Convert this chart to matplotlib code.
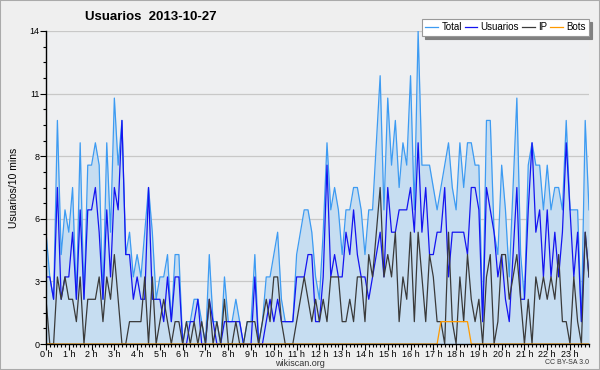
import matplotlib
matplotlib.use("Agg")
import matplotlib.pyplot as plt
from matplotlib.patches import Rectangle

plt.rcParams['font.family'] = ['Liberation Sans', 'DejaVu Sans']

# one value per 10 minutes, 2013-10-27
total = [5, 3, 2, 10, 4, 6, 5, 7, 2, 9, 2, 8, 8, 9, 8, 2, 9, 5, 11, 8, 10, 4, 5, 3,
         4, 3, 5, 7, 5, 2, 3, 3, 4, 1, 4, 4, 0, 1, 1, 2, 2, 1, 0, 4, 1, 1, 0, 3,
         1, 1, 2, 1, 0, 1, 1, 4, 0, 1, 3, 3, 4, 5, 2, 1, 1, 1, 4, 5, 6, 6, 5, 3,
         2, 5, 9, 6, 7, 6, 4, 6, 6, 7, 7, 6, 4, 6, 6, 9, 12, 6, 11, 8, 10, 7, 9, 8,
         12, 6, 14, 8, 8, 8, 7, 6, 7, 8, 9, 7, 6, 9, 7, 9, 9, 8, 8, 1, 10, 10,
         5, 4, 8, 6, 3, 7, 11, 4, 2, 8, 9, 8, 8, 6, 8, 6, 7, 7, 6, 10, 6, 6, 6, 1, 10, 6]
usuarios = [3, 3, 2, 7, 2, 3, 3, 5, 2, 6, 2, 6, 6, 7, 5, 2, 6, 3, 7, 6, 10, 4, 4, 2,
            3, 2, 2, 7, 2, 2, 2, 1, 3, 1, 3, 3, 0, 0, 1, 1, 2, 0, 0, 2, 1, 0, 0, 1,
            1, 1, 1, 1, 0, 0, 0, 3, 0, 0, 1, 2, 1, 2, 1, 1, 1, 1, 3, 3, 3, 4, 4, 1,
            1, 3, 8, 3, 4, 3, 3, 5, 4, 6, 4, 3, 3, 2, 3, 4, 5, 3, 7, 5, 5, 6, 6, 6,
            7, 5, 9, 5, 7, 4, 4, 5, 5, 7, 3, 5, 5, 5, 5, 4, 7, 7, 6, 1, 7, 6,
            5, 3, 4, 2, 1, 4, 7, 2, 2, 6, 9, 5, 6, 3, 6, 3, 5, 3, 5, 9, 6, 3, 5, 1, 5, 3]
ip = [2, 0, 0, 3, 2, 3, 2, 2, 1, 3, 0, 2, 2, 2, 3, 1, 3, 2, 4, 2, 0, 0, 1, 1,
      1, 1, 3, 0, 3, 0, 1, 2, 1, 0, 1, 1, 0, 1, 0, 1, 0, 1, 0, 2, 0, 1, 0, 2,
      0, 0, 1, 0, 0, 1, 1, 1, 0, 1, 2, 1, 3, 3, 1, 0, 0, 0, 1, 2, 3, 2, 1, 2,
      1, 2, 1, 3, 3, 3, 1, 1, 2, 1, 3, 3, 1, 4, 3, 5, 7, 3, 4, 3, 5, 1, 3, 2,
      5, 1, 5, 3, 1, 4, 3, 1, 1, 0, 5, 1, 0, 3, 1, 4, 2, 1, 2, 0, 3, 4,
      0, 1, 4, 4, 2, 3, 4, 2, 0, 2, 0, 3, 2, 3, 2, 3, 2, 4, 1, 1, 0, 3, 1, 0, 5, 3]
bots = [0] * 104 + [1] * 8 + [0] * 32

y_ticks = [0, 2.8, 5.6, 8.4, 11.2, 14]
y_labels = ['0', '3', '6', '8', '11', '14']
hour_labels = ['%d h' % h for h in range(24)]

fig = plt.figure(figsize=(6, 3.7), dpi=100, facecolor='#efefef')
ax = fig.add_axes([46 / 600, 26 / 370, 543 / 600, 313 / 370])
ax.set_facecolor('#eeeff1')

x = range(len(total))
ax.fill_between(x, total, 0, color='#c6ddf1', lw=0, zorder=1)
ax.plot(x, total, color='#3d9bf2', lw=0.9, label='Total', zorder=3)
ax.plot(x, usuarios, color='#1414f0', lw=0.9, label='Usuarios', zorder=4)
ax.plot(x, ip, color='#3a3a3a', lw=0.9, label='IP', zorder=5)
ax.plot(x, bots, color='#ff9a00', lw=0.9, label='Bots', zorder=6)

ax.set_xlim(0, len(total) - 1)
ax.set_ylim(0, 14)
ax.set_yticks(y_ticks)
ax.set_yticklabels(y_labels)
ax.set_yticks([i * 0.7 for i in range(21)], minor=True)
ax.set_xticks(range(0, 144, 6))
ax.set_xticklabels(hour_labels)
ax.set_xticks(range(144), minor=True)
ax.tick_params(axis='both', which='major', labelsize=6.5, length=4, width=0.8, pad=0.5, colors='black')
ax.tick_params(axis='both', which='minor', length=2.5, width=0.8)
ax.grid(axis='y', which='major', color='#c8c8c8', lw=0.9, zorder=0)
ax.set_axisbelow(True)
for s in ['top', 'right']:
    ax.spines[s].set_visible(False)
for s in ['left', 'bottom']:
    ax.spines[s].set_linewidth(1.0)
    ax.spines[s].set_zorder(10)

ax.set_ylabel('Usuarios/10 mins', fontsize=7.5, labelpad=8)
fig.text(85 / 600, 1 - 17 / 370, 'Usuarios  2013-10-27', fontsize=9.5, fontweight='bold',
         va='center', ha='left')
fig.text(0.5, 1 - 363.5 / 370, 'wikiscan.org', fontsize=6.5, ha='center', va='center', color='#333333')
fig.text(589 / 600, 1 - 363 / 370, 'CC BY-SA 3.0', fontsize=5, ha='right', va='center', color='#333333')

leg = ax.legend(loc='upper right', bbox_to_anchor=(589 / 600, 1 - 19 / 370),
                bbox_transform=fig.transFigure, ncol=4, fontsize=7, frameon=True,
                fancybox=False, shadow={'color': '#808080', 'alpha': 1}, framealpha=1,
                edgecolor='#999999', handlelength=1.3, handletextpad=0.35,
                columnspacing=0.3, borderpad=0.35, borderaxespad=0)
leg.get_frame().set_linewidth(0.8)
leg.set_zorder(20)

fig.patches.append(Rectangle((0, 0), 1, 1, transform=fig.transFigure, fill=False,
                             edgecolor='#aaaaaa', lw=1.5))

fig.savefig('out.png', dpi=100, facecolor=fig.get_facecolor())
